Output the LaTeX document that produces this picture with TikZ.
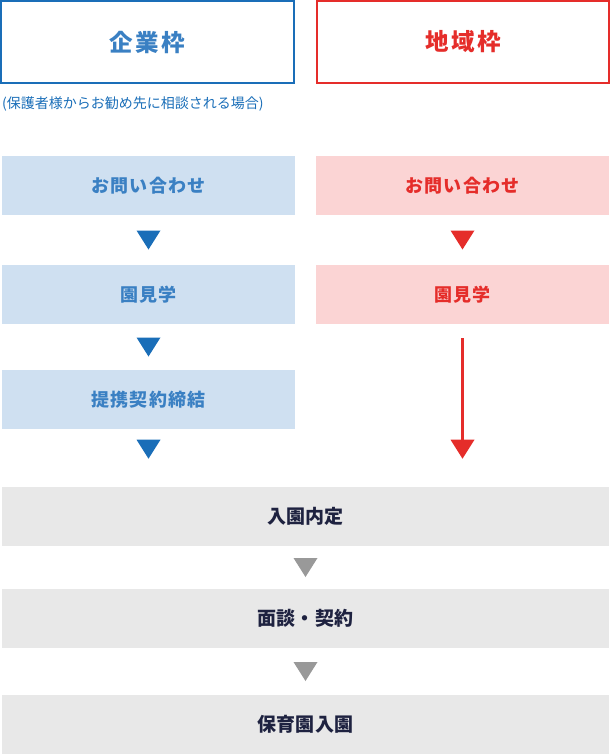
\documentclass[tikz,border=0pt]{standalone}
\usepackage{fontspec}
\setmainfont{Noto Sans CJK JP}
\usetikzlibrary{calc}
\definecolor{cblue}{HTML}{1A6EB8}
\definecolor{cbluetxt}{HTML}{3A80C3}
\definecolor{cred}{HTML}{E52D2A}
\definecolor{cbluefill}{HTML}{CFE0F1}
\definecolor{credfill}{HTML}{FBD4D4}
\definecolor{cgrayfill}{HTML}{E8E8E8}
\definecolor{cgraytri}{HTML}{999999}
\definecolor{cdark}{HTML}{1E2240}
\tikzset{
  headbox/.style={draw, line width=2pt, minimum height=82pt, inner sep=0pt,
    font=\fontsize{23.5}{26}\selectfont\bfseries\addfontfeatures{LetterSpace=10}},
  stepbox/.style={minimum height=59pt, inner sep=0pt,
    font=\fontsize{18}{20}\selectfont\bfseries\addfontfeatures{LetterSpace=6}},
  bluebox/.style={stepbox, fill=cbluefill, text=cbluetxt, minimum width=293pt},
  redbox/.style={stepbox, fill=credfill, text=cred, minimum width=293pt},
  graybox/.style={stepbox, fill=cgrayfill, text=cdark, minimum width=607pt,
    font=\fontsize{19}{21}\selectfont\bfseries\addfontfeatures{LetterSpace=1}},
}
\newcommand{\downtri}[2]{\fill[#1] ($(#2)+(-12,-9.5)$) -- ++(24,0) -- ++(-12,19) -- cycle;}
\begin{document}
\begin{tikzpicture}[x=1pt,y=-1pt]
\useasboundingbox (0,0) rectangle (611,755);
% headers
\node[headbox, draw=cblue, text=cbluetxt, minimum width=293pt] (hl) at (147.5,42) {企業枠};
\node[headbox, draw=cred, text=cred, minimum width=292pt] (hr) at (463,42) {地域枠};
\node[anchor=west, inner sep=0pt, text=cblue, font=\fontsize{14}{16}\selectfont] (sub) at (2,104) {(保護者様からお勧め先に相談される場合)};
% left column
\node[bluebox] (l1) at (148.5,185.5) {お問い合わせ};
\node[bluebox] (l2) at (148.5,294.5) {園見学};
\node[bluebox] (l3) at (148.5,399.5) {提携契約締結};
% right column
\node[redbox] (r1) at (462.5,185.5) {お問い合わせ};
\node[redbox] (r2) at (462.5,294.5) {園見学};
% bottom
\node[graybox] (g1) at (305.5,516.5) {入園内定};
\node[graybox] (g2) at (305.5,618.5) {面談・契約};
\node[graybox] (g3) at (305.5,724.5) {保育園入園};
% connectors (triangle marks)
\coordinate (a1) at ($(l1.south)!0.5!(l2.north)$);
\coordinate (a2) at ($(l2.south)!0.5!(l3.north)$);
\coordinate (a3) at ($(l3.south)+(0,20)$);
\coordinate (b1) at ($(r1.south)!0.5!(r2.north)$);
\coordinate (b2) at ($(r2.south)+(0,125)$);
\coordinate (bs) at ($(r2.south)+(0,14)$);
\coordinate (c1) at ($(g1.south)!0.5!(g2.north)$);
\coordinate (c2) at ($(g2.south)!0.5!(g3.north)$);
\downtri{cblue}{a1}
\downtri{cblue}{a2}
\downtri{cblue}{a3}
\downtri{cred}{b1}
\draw[cred, line width=2.5pt] (bs) -- ($(b2)+(0,-8)$);
\downtri{cred}{b2}
\downtri{cgraytri}{c1}
\downtri{cgraytri}{c2}
\end{tikzpicture}
\end{document}
